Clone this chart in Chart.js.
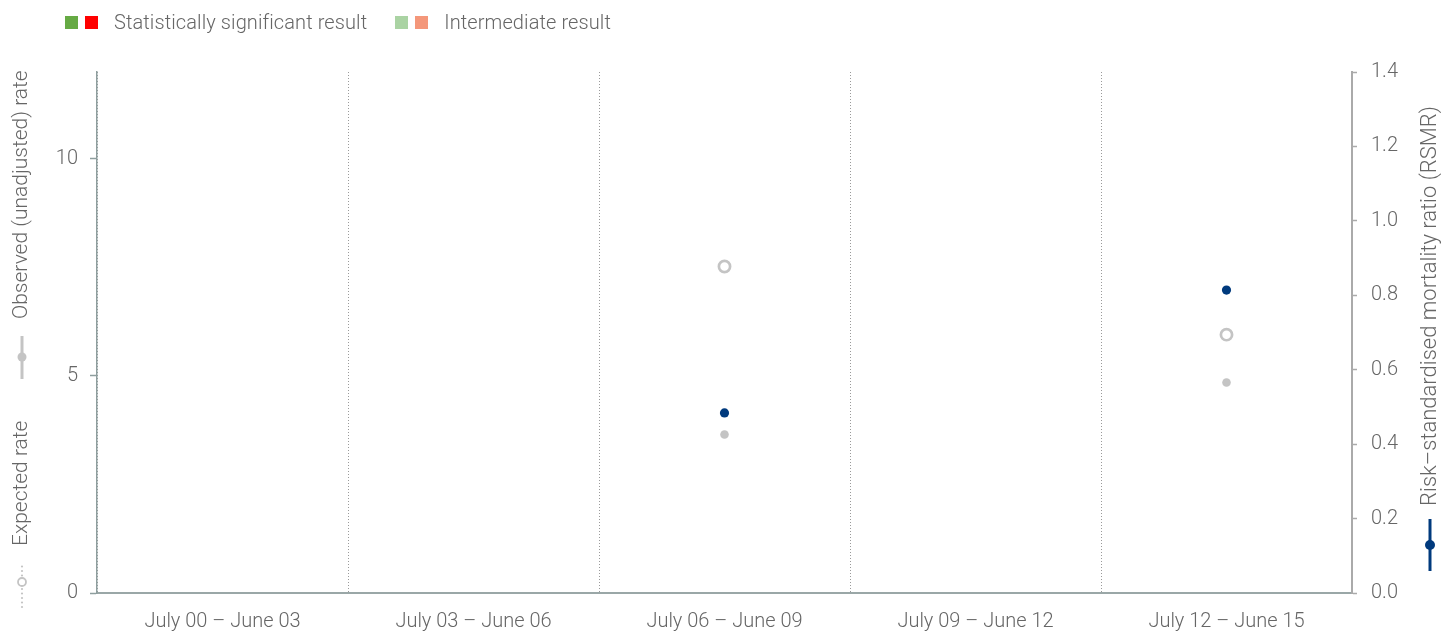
<!DOCTYPE html>
<html>
<head>
<meta charset="utf-8">
<script src="https://cdn.jsdelivr.net/npm/chart.js@4/dist/chart.umd.min.js"></script>
<style>
  html, body { margin: 0; padding: 0; background: #fff; }
  #wrap { position: relative; width: 1441px; height: 631px; }
  #legend { position: absolute; left: 65px; top: 10px; font-family: Roboto, "Liberation Sans", sans-serif; font-weight: 300; font-size: 20px; letter-spacing: 0.1px; color: #666; display: flex; align-items: center; white-space: nowrap; }
  .sw { display: inline-block; width: 13px; height: 13px; margin-right: 7px; }
  .lbl { margin-left: 9px; margin-right: 28px; }
</style>
</head>
<body>
<div id="wrap">
  <canvas id="c"></canvas>
  <div id="legend">
    <span class="sw" style="background:#66aa44"></span><span class="sw" style="background:#ff0000"></span><span class="lbl">Statistically significant result</span>
    <span class="sw" style="background:#aad3a3"></span><span class="sw" style="background:#f4977a"></span><span class="lbl">Intermediate result</span>
  </div>
</div>
<script>
const categories = ['July 00 \u2013 June 03', 'July 03 \u2013 June 06', 'July 06 \u2013 June 09', 'July 09 \u2013 June 12', 'July 12 \u2013 June 15'];
const expectedRate = [null, null, 7.52, null, 5.95];
const observedRate = [null, null, 3.65, null, 4.85];
const rsmr = [null, null, 0.484, null, 0.814];
const leftTicks = [0, 5, 10];
const leftTitleExpected = 'Expected rate';
const leftTitleObserved = 'Observed (unadjusted) rate';
const rightTitle = 'Risk\u2013standardised mortality ratio (RSMR)';

const FONT = 'Roboto, "Liberation Sans", sans-serif';
const TXT = '#666';
const FS = 20;

const titlePlugin = {
  id: 'axisTitles',
  afterDraw(chart) {
    const ctx = chart.ctx;
    ctx.save();
    ctx.font = '300 21px ' + FONT;
    ctx.fillStyle = TXT;
    ctx.textAlign = 'left';
    ctx.textBaseline = 'middle';
    const vtext = (t, x, y) => {
      ctx.save();
      ctx.translate(x, y);
      ctx.rotate(-Math.PI / 2);
      ctx.fillText(t, 0, 0);
      ctx.restore();
    };
    const lx = 22;
    // expected icon: dotted line with hollow circle
    ctx.fillStyle = '#c4c4c4';
    for (let y = 607; y >= 565; y -= 4.5) {
      if (Math.abs(y - 582) < 6) continue;
      ctx.beginPath(); ctx.arc(lx, y, 1.1, 0, Math.PI * 2); ctx.fill();
    }
    ctx.strokeStyle = '#c4c4c4'; ctx.lineWidth = 1.8;
    ctx.beginPath(); ctx.arc(lx, 582, 4, 0, Math.PI * 2); ctx.fillStyle = '#fff'; ctx.fill(); ctx.stroke();
    ctx.fillStyle = TXT;
    vtext(leftTitleExpected, lx, 546);
    // observed icon: solid line with filled circle
    ctx.strokeStyle = '#c4c4c4'; ctx.lineWidth = 3;
    ctx.beginPath(); ctx.moveTo(lx, 379); ctx.lineTo(lx, 336); ctx.stroke();
    ctx.fillStyle = '#c4c4c4';
    ctx.beginPath(); ctx.arc(lx, 357, 4.5, 0, Math.PI * 2); ctx.fill();
    ctx.fillStyle = TXT;
    vtext(leftTitleObserved, lx, 319);
    // right icon
    const rx = 1430;
    ctx.strokeStyle = '#003a7d'; ctx.lineWidth = 3;
    ctx.beginPath(); ctx.moveTo(rx, 571); ctx.lineTo(rx, 519); ctx.stroke();
    ctx.fillStyle = '#003a7d';
    ctx.beginPath(); ctx.arc(rx, 545, 5, 0, Math.PI * 2); ctx.fill();
    ctx.fillStyle = TXT;
    ctx.font = '300 22px ' + FONT;
    vtext(rightTitle, rx, 506);
    ctx.restore();
  }
};

const canvas = document.getElementById('c');
const c2d = canvas.getContext('2d');
if ('letterSpacing' in c2d) c2d.letterSpacing = '0.3px';

new Chart(canvas, {
  type: 'line',
  data: {
    labels: categories,
    datasets: [
      { label: 'Expected rate', data: expectedRate, yAxisID: 'y', showLine: false,
        pointRadius: 5.6, pointBorderWidth: 2.7, pointBorderColor: '#c4c4c4', pointBackgroundColor: '#fff' },
      { label: 'Observed (unadjusted) rate', data: observedRate, yAxisID: 'y', showLine: false,
        pointRadius: 4.3, pointBorderWidth: 0, pointBackgroundColor: '#c4c4c4', pointBorderColor: '#c4c4c4' },
      { label: 'RSMR', data: rsmr, yAxisID: 'y2', showLine: false,
        pointRadius: 4.6, pointBorderWidth: 0, pointBackgroundColor: '#003a7d', pointBorderColor: '#003a7d' }
    ]
  },
  options: {
    responsive: true,
    maintainAspectRatio: false,
    animation: false,
    layout: { padding: { top: 72, left: 0, right: 0, bottom: 0 } },
    plugins: { legend: { display: false }, tooltip: { enabled: false } },
    scales: {
      x: {
        offset: true,
        grid: { offset: true, drawOnChartArea: true, drawTicks: false, color: '#9a9a9a', lineWidth: 1 },
        border: { display: true, color: '#9aa7a7', width: 2, dash: [1, 2] },
        ticks: { color: TXT, font: { family: FONT, size: FS, weight: '300' }, padding: 17, maxRotation: 0 },
        afterFit(s) { s.height = 38; }
      },
      y: {
        position: 'left', min: 0, max: 12,
        afterBuildTicks(s) { s.ticks = leftTicks.map(v => ({ value: v })); },
        grid: { drawOnChartArea: false, drawTicks: true, tickLength: 7, tickColor: '#8e9e9e', tickWidth: 1.5 },
        border: { display: true, color: '#8e9e9e', width: 1.5 },
        ticks: { color: TXT, font: { family: FONT, size: FS, weight: '300' }, padding: 12 },
        afterFit(s) { s.width = 97; }
      },
      y2: {
        position: 'right', min: 0, max: 1.4,
        ticks: { stepSize: 0.2, color: TXT, font: { family: FONT, size: FS, weight: '300' }, padding: 14,
                 callback: v => v.toFixed(1) },
        grid: { drawOnChartArea: false, drawTicks: true, tickLength: 5, tickColor: '#aaaaaa', tickWidth: 1.5 },
        border: { display: true, color: '#aaaaaa', width: 2 },
        afterFit(s) { s.width = 89; }
      }
    }
  },
  plugins: [titlePlugin]
});
</script>
</body>
</html>
